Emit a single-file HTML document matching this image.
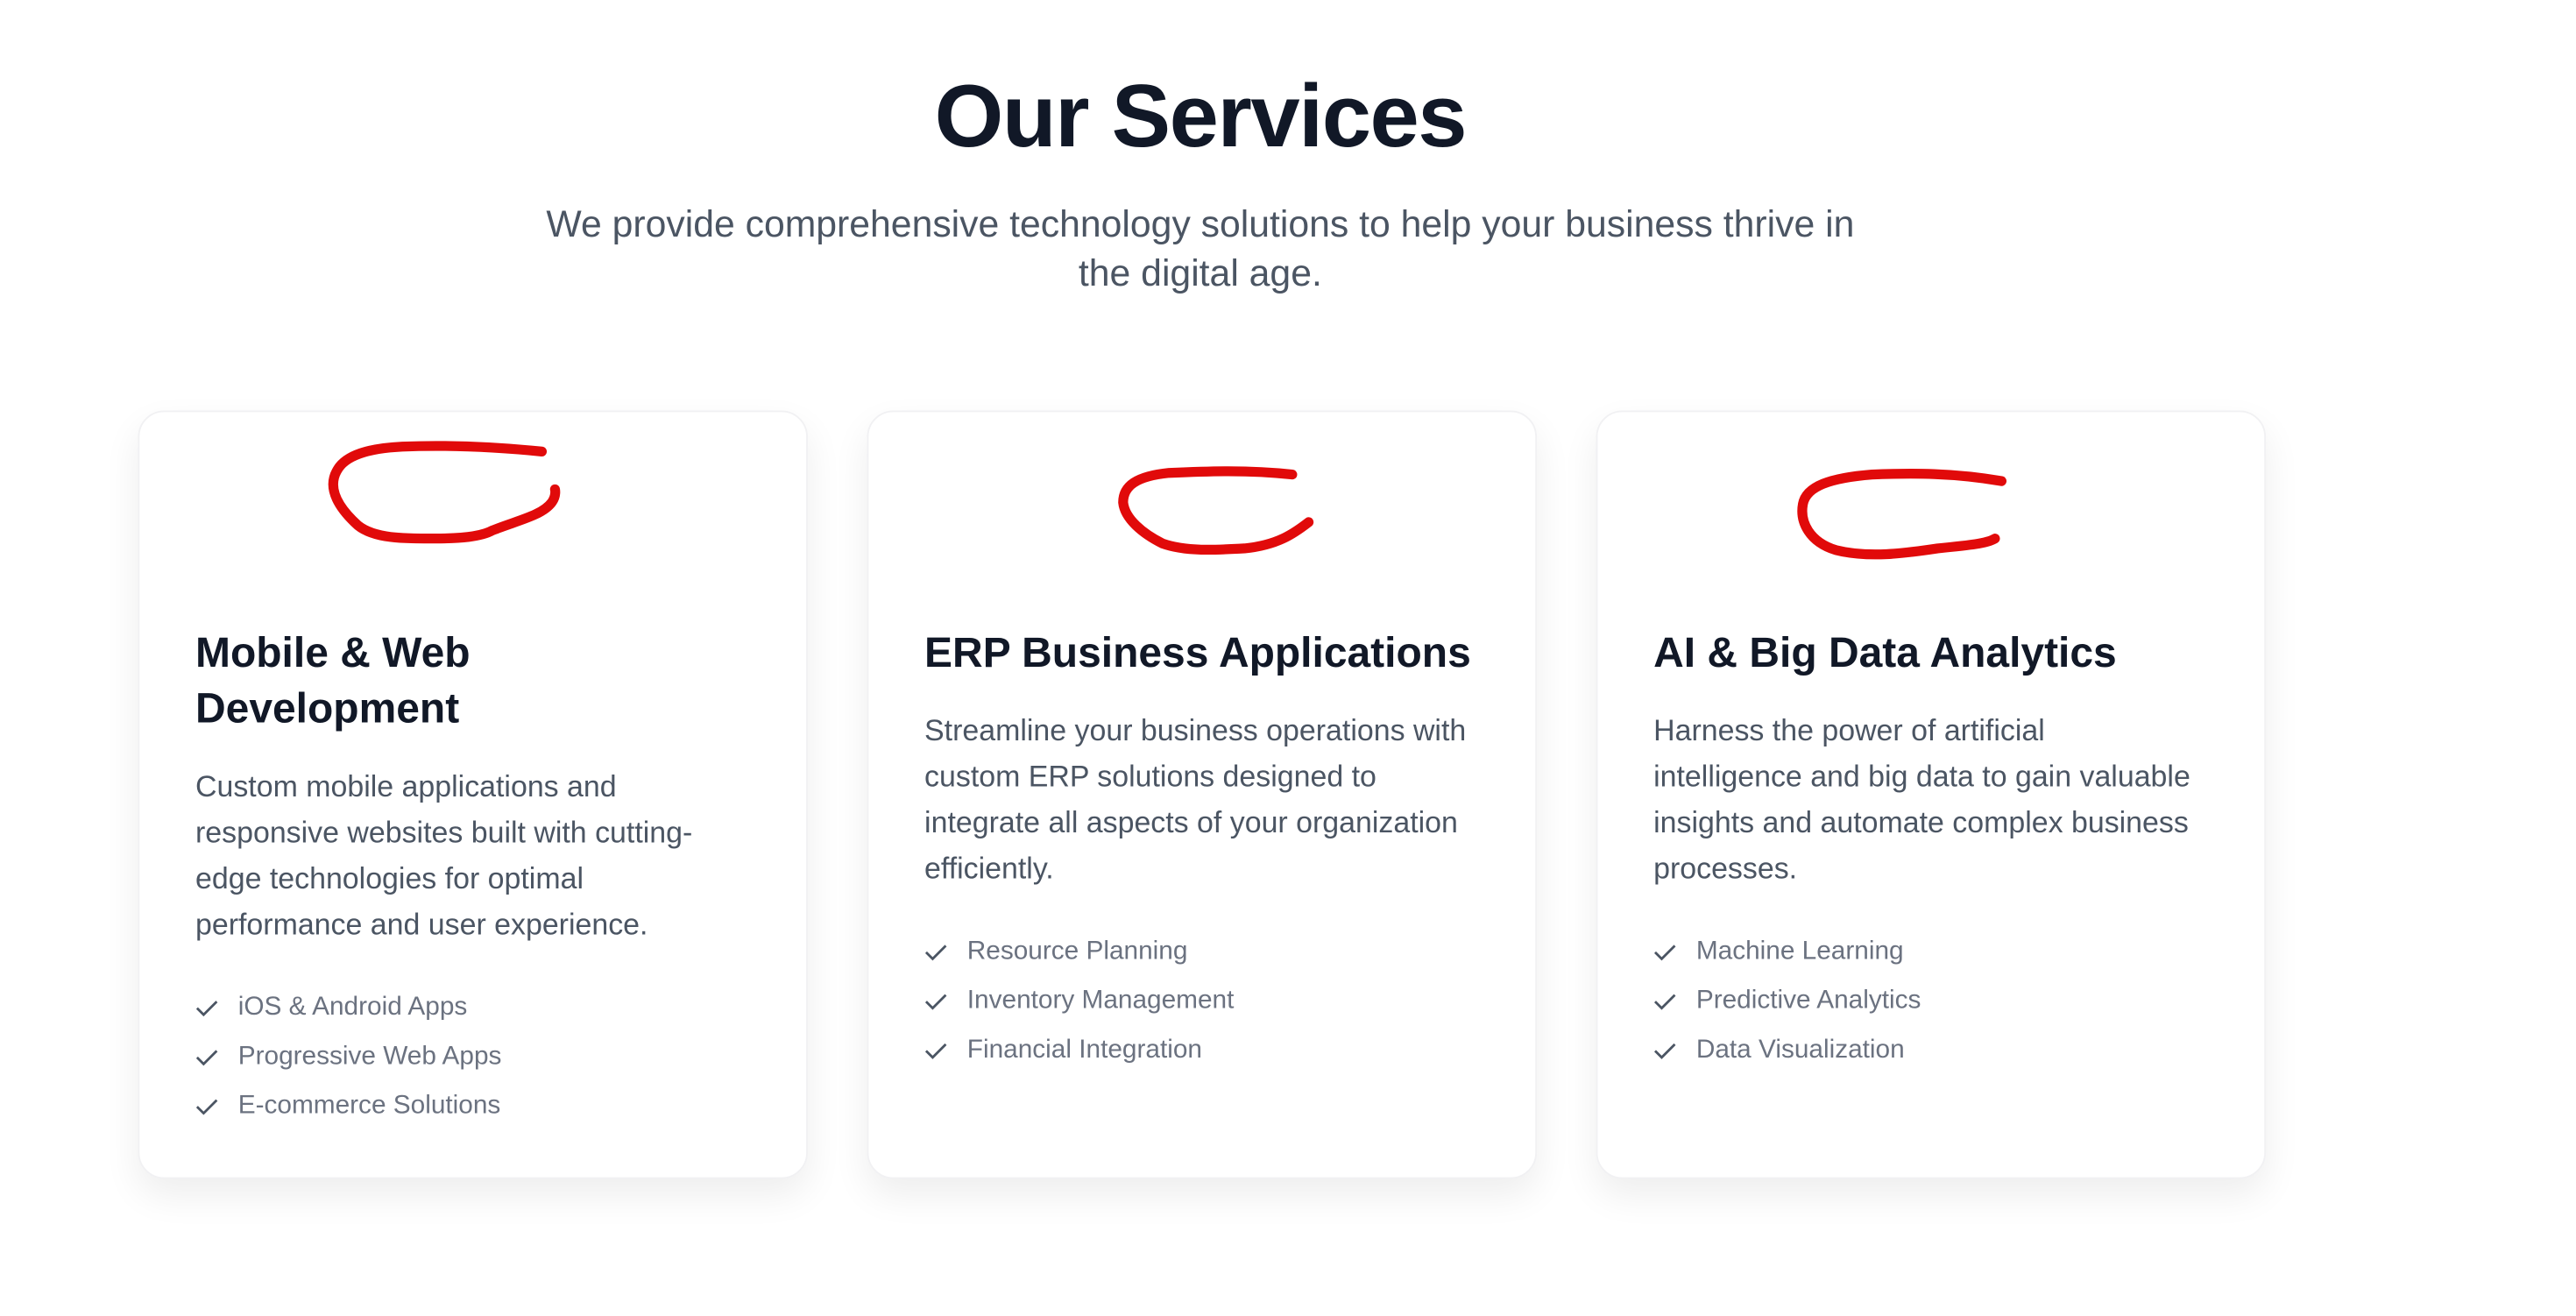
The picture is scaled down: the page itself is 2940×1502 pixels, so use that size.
<!DOCTYPE html>
<html><head><meta charset="utf-8">
<style>
html,body{margin:0;padding:0;background:#fff;}
body{width:2940px;height:1502px;overflow:hidden;position:relative;font-family:"Liberation Sans",sans-serif;}
#s{position:absolute;left:0;top:0;width:1569px;height:801px;transform:scale(1.874);transform-origin:0 0;}
h1{position:absolute;left:0;width:1462px;top:37px;margin:0;text-align:center;font-size:54px;line-height:68px;font-weight:700;color:#111827;letter-spacing:-0.8px;}
.sub{position:absolute;left:0;width:1462px;top:121px;margin:0;text-align:center;font-size:22.8px;line-height:30px;color:#4b5563;white-space:nowrap;}
.card{position:absolute;top:250px;width:406px;height:466px;border:1px solid #f1f1f3;border-radius:16px;background:#fff;box-shadow:0 10px 22px rgba(0,0,0,0.07);box-sizing:content-box;}
.in{position:absolute;left:34px;top:130px;white-space:nowrap;}
h3{margin:0;font-size:25.6px;line-height:34px;font-weight:700;color:#111827;}
p{margin:16px 0 0;font-size:18.1px;line-height:28px;color:#4b5563;}
ul{list-style:none;margin:22px 0 0;padding:0;}
li{font-size:15.9px;line-height:30px;color:#6b7280;position:relative;padding-left:26px;}
li svg{position:absolute;left:0;top:9px;}
</style></head><body>
<div id="s">
<h1>Our Services</h1>
<div class="sub">We provide comprehensive technology solutions to help your business thrive in<br>the digital age.</div>

<div class="card" style="left:84px">
<div class="in"><h3>Mobile &amp; Web<br>Development</h3>
<p>Custom mobile applications and<br>responsive websites built with cutting-<br>edge technologies for optimal<br>performance and user experience.</p>
<ul>
<li><svg width="14" height="12" viewBox="0 0 14 12"><polyline points="1,6 5,10 13,2" fill="none" stroke="#4b5563" stroke-width="1.5"/></svg>iOS &amp; Android Apps</li>
<li><svg width="14" height="12" viewBox="0 0 14 12"><polyline points="1,6 5,10 13,2" fill="none" stroke="#4b5563" stroke-width="1.5"/></svg>Progressive Web Apps</li>
<li><svg width="14" height="12" viewBox="0 0 14 12"><polyline points="1,6 5,10 13,2" fill="none" stroke="#4b5563" stroke-width="1.5"/></svg>E-commerce Solutions</li>
</ul></div></div>

<div class="card" style="left:528px">
<div class="in"><h3>ERP Business Applications</h3>
<p>Streamline your business operations with<br>custom ERP solutions designed to<br>integrate all aspects of your organization<br>efficiently.</p>
<ul>
<li><svg width="14" height="12" viewBox="0 0 14 12"><polyline points="1,6 5,10 13,2" fill="none" stroke="#4b5563" stroke-width="1.5"/></svg>Resource Planning</li>
<li><svg width="14" height="12" viewBox="0 0 14 12"><polyline points="1,6 5,10 13,2" fill="none" stroke="#4b5563" stroke-width="1.5"/></svg>Inventory Management</li>
<li><svg width="14" height="12" viewBox="0 0 14 12"><polyline points="1,6 5,10 13,2" fill="none" stroke="#4b5563" stroke-width="1.5"/></svg>Financial Integration</li>
</ul></div></div>

<div class="card" style="left:972px">
<div class="in"><h3>AI &amp; Big Data Analytics</h3>
<p>Harness the power of artificial<br>intelligence and big data to gain valuable<br>insights and automate complex business<br>processes.</p>
<ul>
<li><svg width="14" height="12" viewBox="0 0 14 12"><polyline points="1,6 5,10 13,2" fill="none" stroke="#4b5563" stroke-width="1.5"/></svg>Machine Learning</li>
<li><svg width="14" height="12" viewBox="0 0 14 12"><polyline points="1,6 5,10 13,2" fill="none" stroke="#4b5563" stroke-width="1.5"/></svg>Predictive Analytics</li>
<li><svg width="14" height="12" viewBox="0 0 14 12"><polyline points="1,6 5,10 13,2" fill="none" stroke="#4b5563" stroke-width="1.5"/></svg>Data Visualization</li>
</ul></div></div>

<svg style="position:absolute;left:0;top:0" width="1569" height="801" viewBox="0 0 1569 801">
<g fill="none" stroke="#e10a0a" stroke-width="6" stroke-linecap="round" stroke-linejoin="round">
<path d="M330,275 C300,272 270,271 245,272 C225,273 210,277 205,287 C199,298 207,310 218,320 C228,328 245,328 265,328 C280,328 293,327 300,323 C315,317 330,314 336,306 C339,302 338,298 338,298"/>
<path d="M787,289 C760,286 735,287 712,288 C692,290 684,296 684,306 C685,316 696,325 708,331 C722,336 740,335 758,334 C778,332 788,325 797,318"/>
<path d="M1219,293 C1190,288 1165,288 1140,289 C1115,291 1100,296 1098,307 C1096,318 1102,330 1118,335 C1138,340 1160,337 1180,334 C1200,332 1210,331 1215,328"/>
</g></svg>
</div>
</body></html>
